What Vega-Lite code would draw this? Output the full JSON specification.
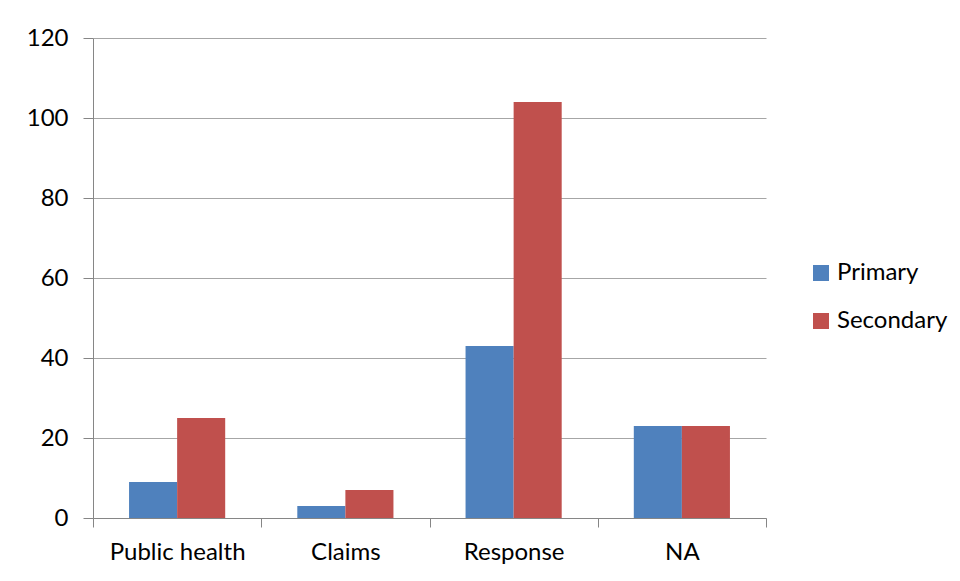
{
  "$schema": "https://vega.github.io/schema/vega-lite/v6.json",
  "width": 673,
  "height": 480,
  "autosize": "none",
  "padding": {"left": 93, "top": 38, "right": 194, "bottom": 63},
  "background": "white",
  "data": {
    "values": [
      {"category": "Public health", "series": "Primary", "value": 9},
      {"category": "Public health", "series": "Secondary", "value": 25},
      {"category": "Claims", "series": "Primary", "value": 3},
      {"category": "Claims", "series": "Secondary", "value": 7},
      {"category": "Response", "series": "Primary", "value": 43},
      {"category": "Response", "series": "Secondary", "value": 104},
      {"category": "NA", "series": "Primary", "value": 23},
      {"category": "NA", "series": "Secondary", "value": 23}
    ]
  },
  "mark": {"type": "bar"},
  "encoding": {
    "x": {
      "field": "category",
      "type": "nominal",
      "sort": ["Public health", "Claims", "Response", "NA"],
      "scale": {"paddingInner": 0, "paddingOuter": 0},
      "axis": {
        "title": null,
        "labelAngle": 0,
        "tickBand": "extent",
        "tickSize": 9,
        "tickColor": "#868686",
        "domainColor": "#868686",
        "labelPadding": 13,
        "labelFont": "Lato",
        "labelFontSize": 24,
        "labelColor": "#000000"
      }
    },
    "xOffset": {
      "field": "series",
      "type": "nominal",
      "sort": ["Primary", "Secondary"],
      "scale": {"paddingInner": 0, "paddingOuter": 0.75}
    },
    "y": {
      "field": "value",
      "type": "quantitative",
      "scale": {"domain": [0, 120], "nice": false},
      "axis": {
        "title": null,
        "values": [0, 20, 40, 60, 80, 100, 120],
        "grid": true,
        "gridColor": "#a6a6a6",
        "tickColor": "#868686",
        "domainColor": "#868686",
        "tickSize": 10,
        "labelPadding": 15,
        "labelFont": "Lato",
        "labelFontSize": 24,
        "labelColor": "#000000"
      }
    },
    "color": {
      "field": "series",
      "type": "nominal",
      "scale": {"domain": ["Primary", "Secondary"], "range": ["#4F81BD", "#C0504D"]},
      "legend": {
        "title": null,
        "orient": "none",
        "legendX": 716,
        "legendY": 223,
        "symbolType": "square",
        "symbolSize": 256,
        "symbolStrokeWidth": 0,
        "labelFont": "Lato",
        "labelFontSize": 24,
        "labelColor": "#000000",
        "labelOffset": 4,
        "rowPadding": 24
      }
    }
  },
  "config": {"view": {"stroke": null}}
}
